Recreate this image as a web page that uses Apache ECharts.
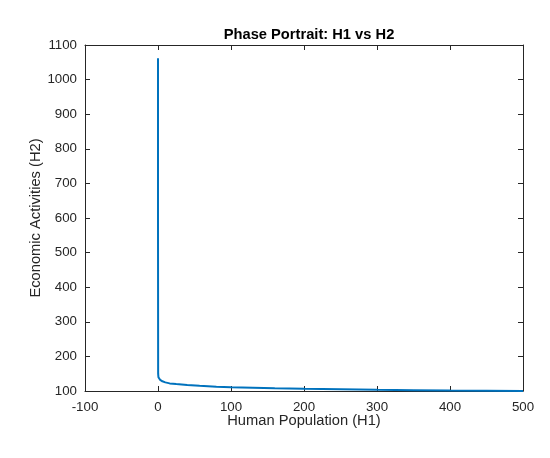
<!DOCTYPE html>
<html>
<head>
<meta charset="utf-8">
<title>Phase Portrait: H1 vs H2</title>
<script src="https://cdn.jsdelivr.net/npm/echarts@6/dist/echarts.min.js"></script>
<style>
    html, body { margin: 0; padding: 0; background: #fff; }
    #chart { width: 550px; height: 458px; }
</style>
</head>
<body>
<div id="chart"></div>
<script>
// 轨迹数据：H1（人口）与 H2（经济活动）
const h1Values = [0, 0, 0.2, 0.6, 1.5, 3, 6, 10, 16, 25, 40, 57, 80, 100, 130, 160, 200, 250, 300, 350, 400, 450, 500]
const h2Values = [1062, 600, 150, 140, 136, 132, 128, 125, 122, 120, 117, 115, 112.5, 111, 109.5, 108, 106.5, 105, 103.5, 102.5, 101.5, 100.8, 100.2]
const xTicks = [-100, 0, 100, 200, 300, 400, 500]
const yTicks = [100, 200, 300, 400, 500, 600, 700, 800, 900, 1000, 1100]

const axisColor = '#262626'
const fontName = 'Liberation Sans, Arial, Helvetica, sans-serif'

function initChart() {
    let myChart = echarts.init(document.getElementById('chart'))
    myChart.setOption(chartOption())
}

function baseAxis(ticks) {
    return {
        type: 'value',
        min: ticks[0],
        max: ticks[ticks.length - 1],
        interval: ticks[1] - ticks[0],
        splitLine: { show: false },
        // 不要在零点处画轴线
        axisLine: { show: true, onZero: false, lineStyle: { color: axisColor, width: 1 } },
        axisTick: { show: true, inside: true, length: 5, lineStyle: { color: axisColor } }
    }
}

function chartOption() {
    let points = h1Values.map((x, i) => [x, h2Values[i]])
    return {
        animation: false,
        backgroundColor: '#fff',
        title: {
            text: 'Phase Portrait: H1 vs H2',
            left: 304,
            top: 22,
            textAlign: 'center',
            textStyle: { fontFamily: fontName, fontWeight: 'bold', fontSize: 14.7, color: '#000' }
        },
        grid: { left: 85, right: 27, top: 45, bottom: 67, containLabel: false },
        xAxis: [
            Object.assign(baseAxis(xTicks), {
                position: 'bottom',
                name: 'Human Population (H1)',
                nameLocation: 'middle',
                nameGap: 22,
                nameMoveOverlap: false,
                nameTextStyle: { fontFamily: fontName, fontSize: 14.7, color: axisColor },
                axisLabel: { margin: 10, fontFamily: fontName, fontSize: 13.3, color: axisColor, formatter: v => String(v) }
            }),
            Object.assign(baseAxis(xTicks), {
                position: 'top',
                axisLabel: { show: false }
            })
        ],
        yAxis: [
            Object.assign(baseAxis(yTicks), {
                position: 'left',
                name: 'Economic Activities (H2)',
                nameLocation: 'middle',
                nameGap: 42,
                nameMoveOverlap: false,
                nameTextStyle: { fontFamily: fontName, fontSize: 14.7, color: axisColor },
                axisLabel: { margin: 8, fontFamily: fontName, fontSize: 13.3, color: axisColor, formatter: v => String(v) }
            }),
            Object.assign(baseAxis(yTicks), {
                position: 'right',
                axisLabel: { show: false }
            })
        ],
        series: [
            {
                type: 'line',
                data: points,
                showSymbol: false,
                symbol: 'none',
                clip: true,
                lineStyle: { color: '#0072BD', width: 2 }
            }
        ]
    }
}

initChart()
</script>
</body>
</html>
